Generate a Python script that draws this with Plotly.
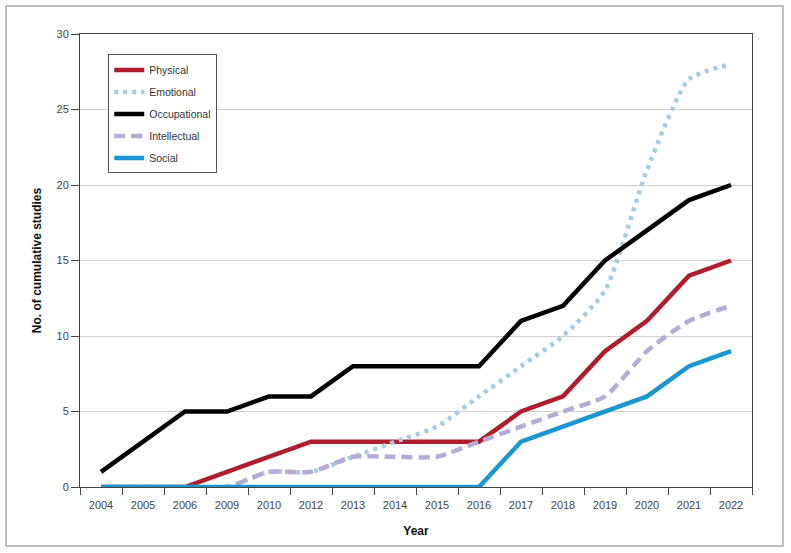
import plotly.graph_objects as go

years = ["2004", "2005", "2006", "2009", "2010", "2012", "2013", "2014",
         "2015", "2016", "2017", "2018", "2019", "2020", "2021", "2022"]
physical = [0, 0, 0, 1, 2, 3, 3, 3, 3, 3, 5, 6, 9, 11, 14, 15]
emotional = [0, 0, 0, 0, 1, 1, 2, 3, 4, 6, 8, 10, 13, 21, 27, 28]
occupational = [1, 3, 5, 5, 6, 6, 8, 8, 8, 8, 11, 12, 15, 17, 19, 20]
intellectual = [0, 0, 0, 0, 1, 1, 2, 2, 2, 3, 4, 5, 6, 9, 11, 12]
social = [0, 0, 0, 0, 0, 0, 0, 0, 0, 0, 3, 4, 5, 6, 8, 9]

series = [
    ("Physical", physical, "#b01e2d", "solid", "linear", 4.5),
    ("Emotional", emotional, "#a8cbe0", "4px,5px", "spline", 4.5),
    ("Occupational", occupational, "#000000", "solid", "linear", 4.5),
    ("Intellectual", intellectual, "#b5acd6", "11px,6px", "spline", 4.5),
    ("Social", social, "#1b96d0", "solid", "linear", 4.5),
]

fig = go.Figure()
for i, (name, vals, color, dash, shape, w) in enumerate(series):
    fig.add_trace(go.Scatter(
        x=years, y=vals, name=name, mode="lines",
        legendgroup=name,
        line=dict(color=color, width=w, dash=dash, shape=shape,
                  smoothing=0.6 if shape == "spline" else None),
    ))

fig.update_layout(
    width=791, height=553,
    margin=dict(l=80, r=39, t=34, b=66),
    paper_bgcolor="white", plot_bgcolor="white",
    font=dict(family="Liberation Sans, Arial, sans-serif", size=11, color="#444444"),
    showlegend=True,
    legend=dict(
        x=0.042, y=0.955, xanchor="left", yanchor="top",
        bordercolor="#555555", borderwidth=1, bgcolor="white",
        font=dict(size=10.5, color="#333333"),
        traceorder="grouped", tracegroupgap=3,
        itemwidth=30,
    ),
    xaxis=dict(
        type="category", tickson="boundaries",
        range=[-0.5, len(years) - 0.5],
        ticks="outside", ticklen=7, tickcolor="#444444",
        ticklabelstandoff=8,
        showline=True, linecolor="#444444", linewidth=1, mirror=True,
        showgrid=False,
        title=dict(text="<b>Year</b>", font=dict(size=12, color="#111111"), standoff=16),
    ),
    yaxis=dict(
        range=[0, 30], dtick=5,
        ticks="outside", ticklen=8, tickcolor="#444444",
        showline=True, linecolor="#444444", linewidth=1, mirror=True,
        showgrid=True, gridcolor="#cfcfcf", gridwidth=1,
        zeroline=False,
        title=dict(text="<b>No. of cumulative studies</b>", font=dict(size=12, color="#111111"), standoff=12),
    ),
    shapes=[dict(
        type="rect", xref="paper", yref="paper",
        x0=-0.110, x1=1.046, y0=-0.130, y1=1.062,
        line=dict(color="#aaaaaa", width=1.5), fillcolor="rgba(0,0,0,0)",
        layer="below",
    )],
)

fig.write_html("out.html", config={"displayModeBar": False},
               post_script="document.body.style.margin='0';document.body.style.overflow='hidden';")
